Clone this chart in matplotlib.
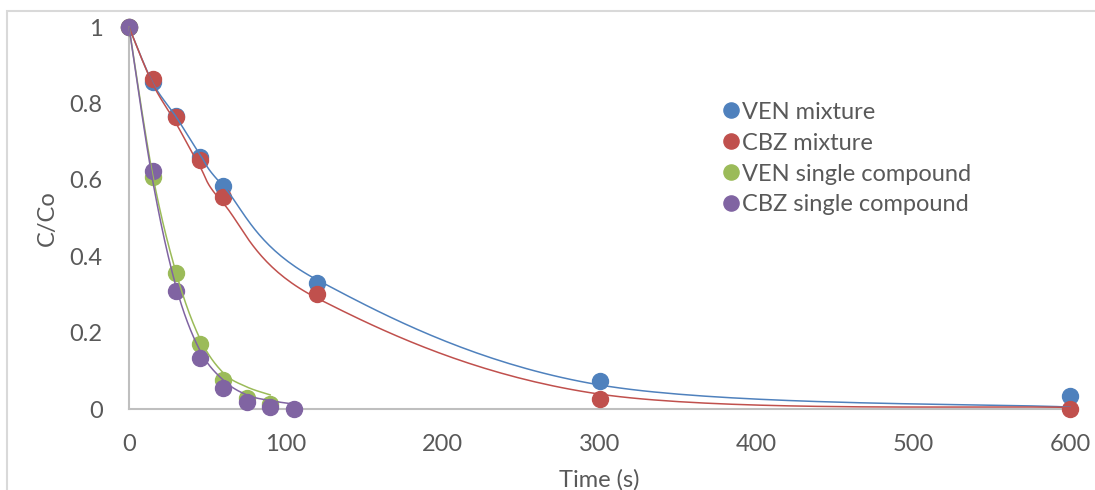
import numpy as np
import matplotlib
matplotlib.use("Agg")
import matplotlib.pyplot as plt
from matplotlib.patches import Rectangle

# measured points
t_mix = [0, 15, 30, 45, 60, 120, 300, 600]
ven_mix = [1.0, 0.857, 0.768, 0.659, 0.583, 0.331, 0.072, 0.033]
cbz_mix = [1.0, 0.864, 0.765, 0.653, 0.555, 0.300, 0.025, 0.001]

t_single = [0, 15, 30, 45, 60, 75, 90, 105]
ven_single = [1.0, 0.607, 0.355, 0.170, 0.075, 0.030, 0.012]
cbz_single = [1.0, 0.623, 0.308, 0.133, 0.056, 0.018, 0.005, 0.0]

# fitted (model) curves, drawn as smoothed lines
ven_mix_fit = [1.0, 0.855, 0.765, 0.668, 0.584, 0.338, 0.063, 0.005]
cbz_mix_fit = [1.0, 0.852, 0.748, 0.636, 0.539, 0.290, 0.039, 0.004]
ven_single_fit = [1.0, 0.615, 0.357, 0.186, 0.095, 0.058, 0.037]
cbz_single_fit = [1.0, 0.600, 0.320, 0.155, 0.076, 0.037, 0.022, 0.013]

labels = ["VEN mixture", "CBZ mixture", "VEN single compound", "CBZ single compound"]
colors = ["#4F81BD", "#C0504D", "#9BBB59", "#8064A2"]

x_ticks = [0, 100, 200, 300, 400, 500, 600]
y_ticks = [0, 0.2, 0.4, 0.6, 0.8, 1.0]
y_tick_labels = ["0", "0.2", "0.4", "0.6", "0.8", "1"]


def smooth(x, y, n=40):
    # catmull-rom, like Excel's smoothed line
    p = np.column_stack([x, y]).astype(float)
    out = []
    for i in range(len(p) - 1):
        p0 = p[i - 1] if i > 0 else p[i]
        p1, p2 = p[i], p[i + 1]
        p3 = p[i + 2] if i + 2 < len(p) else p[i + 1]
        c1 = p1 + (p2 - p0) / 6
        c2 = p2 - (p3 - p1) / 6
        s = np.linspace(0, 1, n)[:, None]
        seg = ((1 - s) ** 3) * p1 + 3 * ((1 - s) ** 2) * s * c1 + 3 * (1 - s) * s ** 2 * c2 + s ** 3 * p2
        out.append(seg)
    a = np.vstack(out)
    return a[:, 0], a[:, 1]


plt.rcParams["font.family"] = ["Lato", "DejaVu Sans"]

W, H = 1095, 490
fig = plt.figure(figsize=(W / 100, H / 100), dpi=100)
ax = fig.add_axes([129 / W, 1 - 409 / H, (1070 - 129) / W, (409 - 27) / H])

series = [
    (t_mix, ven_mix, ven_mix_fit),
    (t_mix, cbz_mix, cbz_mix_fit),
    (t_single, ven_single, ven_single_fit),
    (t_single, cbz_single, cbz_single_fit),
]

for (t, y, _), lab, c in zip(series, labels, colors):
    ax.plot(t[:len(y)], y, "o", color=c, ms=11.5, mec=c, label=lab, clip_on=False, zorder=3)

for (t, _, f), c in zip(series, colors):
    sx, sy = smooth(t[:len(f)], f)
    ax.plot(sx, sy, "-", color=c, lw=1.1, clip_on=False, zorder=4)

ax.set_xlim(0, 600)
ax.set_ylim(0, 1)
ax.set_xticks(x_ticks)
ax.set_yticks(y_ticks)
ax.set_yticklabels(y_tick_labels)
ax.tick_params(length=0, labelsize=17, colors="#595959")
ax.tick_params(axis="y", pad=19)
ax.tick_params(axis="x", pad=18)

for side in ["top", "right"]:
    ax.spines[side].set_visible(False)
for side in ["left", "bottom"]:
    ax.spines[side].set_color("#BFBFBF")
    ax.spines[side].set_linewidth(1.5)

ax.set_xlabel("Time (s)", fontsize=17, color="#595959", labelpad=10)
ax.set_ylabel("C/Co", fontsize=17, color="#595959", labelpad=8)

ax.legend(loc="upper left", bbox_to_anchor=(0.607, 0.86), frameon=False,
          fontsize=17, labelcolor="#595959", handletextpad=0.05,
          handlelength=0.8, labelspacing=0.42, markerscale=0.95)

fig.add_artist(Rectangle((7 / W, -0.1), 1.2, (H - 11) / H + 0.1,
                         transform=fig.transFigure, fill=False,
                         ec="#D9D9D9", lw=1.5))

fig.savefig("out.png", dpi=100)
